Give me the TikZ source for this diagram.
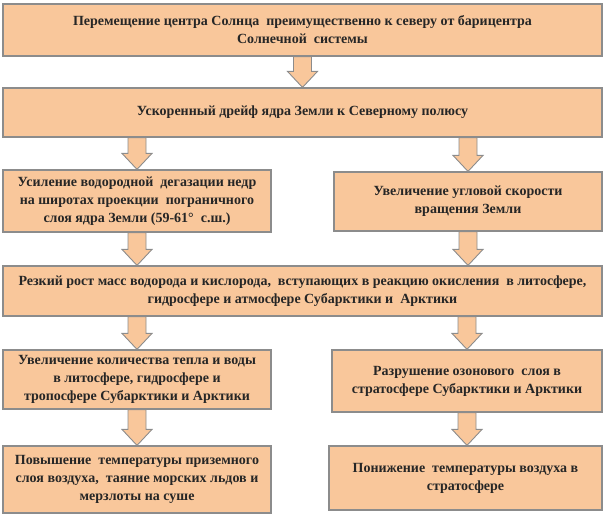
\documentclass[tikz,border=0pt]{standalone}
\usepackage{fontspec}
\setmainfont{Liberation Serif}[BoldFont={Liberation Serif Bold}]
\usetikzlibrary{calc}
\definecolor{boxfill}{HTML}{F9C79B}
\definecolor{boxline}{HTML}{8C8C8C}
\definecolor{txt}{HTML}{262626}
\tikzset{
  box/.style={draw=boxline, line width=1.2pt, fill=boxfill, text=txt,
    font=\bfseries\fontsize{14}{18}\selectfont, align=center, inner sep=0pt},
  barrow/.style={draw=boxline, line width=0.9pt, fill=boxfill, line join=miter}
}
\newcommand\blockarr[2]{%
  \path[barrow] let \p1=(#1), \p2=(#2) in
    (\x1-9pt,\y1) -- (\x1+9pt,\y1) -- (\x1+9pt,\y2+16pt) -- (\x1+15pt,\y2+16pt)
    -- (\x1,\y2) -- (\x1-15pt,\y2+16pt) -- (\x1-9pt,\y2+16pt) -- cycle;}
\begin{document}
\begin{tikzpicture}[x=1pt,y=-1pt]
\useasboundingbox (0,0) rectangle (608,517);
\node[box, minimum width=599pt, minimum height=52pt] (b1) at (302.5,30)
  {Перемещение центра Солнца\ \ преимущественно к северу от барицентра\\Солнечной\ \ системы};
\node[box, minimum width=599pt, minimum height=49pt] (b2) at (302.5,112.5)
  {Ускоренный дрейф ядра Земли к Северному полюсу};
\node[box, minimum width=268pt, minimum height=62pt] (b3) at (137,201)
  {Усиление водородной\ \ дегазации недр\\на широтах проекции\ \ пограничного\\слоя ядра Земли (59-61°\ \ с.ш.)};
\node[box, minimum width=268pt, minimum height=59pt] (b4) at (468,201.5)
  {Увеличение угловой скорости\\вращения Земли};
\node[box, minimum width=599pt, minimum height=50pt] (b5) at (302.5,291)
  {Резкий рост масс водорода и кислорода,\ \ вступающих в реакцию окисления\ \ в литосфере,\\гидросфере и атмосфере Субарктики и\ \ Арктики};
\node[box, minimum width=268pt, minimum height=59pt] (b6) at (137,379.5)
  {Увеличение количества тепла и воды\\в литосфере, гидросфере и\\тропосфере Субарктики и Арктики};
\node[box, minimum width=270pt, minimum height=62pt] (b7) at (467,381)
  {Разрушение озонового\ \ слоя в\\стратосфере Субарктики и Арктики};
\node[box, minimum width=268pt, minimum height=67pt] (b8) at (137,479.5)
  {Повышение\ \ температуры приземного\\слоя воздуха,\ \ таяние морских льдов и\\мерзлоты на суше};
\node[box, minimum width=273pt, minimum height=64pt] (b9) at (465.5,478)
  {Понижение\ \ температуры воздуха в\\стратосфере};
\blockarr{b1.south}{b2.north}
\blockarr{b3.north |- b2.south}{b3.north}
\blockarr{b4.north |- b2.south}{b4.north}
\blockarr{b3.south}{b3.south |- b5.north}
\blockarr{b4.south}{b4.south |- b5.north}
\blockarr{b6.north |- b5.south}{b6.north}
\blockarr{b7.north |- b5.south}{b7.north}
\blockarr{b6.south}{b8.north}
\blockarr{b7.south}{b7.south |- b9.north}
\end{tikzpicture}
\end{document}
